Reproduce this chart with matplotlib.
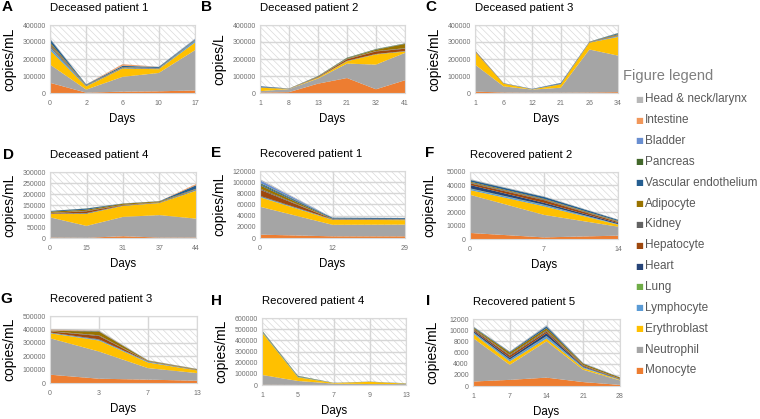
import matplotlib.pyplot as plt
from matplotlib.patches import Rectangle
import numpy as np

plt.rcParams['font.family'] = ['Liberation Sans', 'DejaVu Sans']
plt.rcParams['hatch.linewidth'] = 0.5

# cell types, bottom of the stack first
cell_types = ['Monocyte', 'Neutrophil', 'Erythroblast', 'Lymphocyte', 'Lung', 'Heart',
              'Hepatocyte', 'Kidney', 'Adipocyte', 'Vascular endothelium', 'Pancreas',
              'Bladder', 'Intestine', 'Head & neck/larynx']
colors = ['#ED7D31', '#A5A5A5', '#FFC000', '#5B9BD5', '#70AD47', '#264478',
          '#9E480E', '#636363', '#997300', '#255E91', '#43682B',
          '#698ED0', '#F1975A', '#B7B7B7']

# one row per cell type (same order as cell_types), one column per day
days_a = [0, 2, 6, 10, 17]
vals_a = [[60000, 2000, 8000, 10000, 15000],
          [107000, 18000, 87000, 108000, 237000],
          [85000, 19000, 49000, 22000, 45000],
          [15000, 2000, 2000, 2000, 10000],
          [3000, 500, 500, 500, 1000],
          [5000, 1000, 2000, 1500, 1000],
          [5000, 1000, 1000, 1000, 1000],
          [8000, 1500, 1000, 1000, 1000],
          [10000, 1500, 2000, 1500, 1000],
          [18000, 3000, 7000, 5000, 3000],
          [2000, 500, 500, 500, 500],
          [3000, 500, 1000, 1000, 3000],
          [0, 0, 8000, 0, 0],
          [2000, 500, 1000, 500, 1500]]

days_b = [1, 8, 13, 21, 32, 41]
vals_b = [[3000, 5000, 55000, 88000, 22000, 75000],
          [8000, 18000, 30000, 85000, 145000, 161000],
          [20000, 1000, 5000, 14000, 60000, 8000],
          [1000, 500, 500, 1000, 1000, 1000],
          [200, 100, 200, 500, 500, 500],
          [500, 200, 500, 1000, 1000, 1000],
          [1000, 500, 3000, 9000, 15000, 14000],
          [500, 200, 1000, 2000, 2000, 3000],
          [500, 300, 2000, 3000, 8000, 25000],
          [5000, 500, 1000, 1000, 1000, 1000],
          [200, 100, 1500, 3000, 3000, 2000],
          [300, 100, 200, 300, 300, 300],
          [0, 0, 0, 0, 0, 0],
          [200, 100, 200, 300, 300, 300]]

days_c = [1, 6, 12, 21, 26, 34]
vals_c = [[8000, 3000, 2000, 2000, 3000, 5000],
          [159000, 36000, 18000, 29000, 253000, 215000],
          [75000, 16000, 1000, 20000, 40000, 110000],
          [1000, 500, 500, 1000, 1000, 5000],
          [200, 100, 100, 200, 200, 500],
          [500, 300, 300, 1000, 500, 1000],
          [3000, 500, 300, 500, 1000, 3000],
          [1000, 300, 200, 300, 500, 1000],
          [2000, 500, 300, 500, 1000, 5000],
          [1000, 500, 1500, 4000, 1000, 5000],
          [500, 200, 100, 200, 500, 2000],
          [300, 200, 100, 500, 300, 500],
          [0, 0, 0, 0, 0, 0],
          [300, 200, 100, 200, 300, 500]]

days_d = [0, 15, 31, 37, 44]
vals_d = [[2000, 1000, 8000, 2000, 2000],
          [92000, 54000, 88000, 102000, 86000],
          [15000, 55000, 50000, 55000, 127000],
          [1000, 1000, 1000, 1000, 2000],
          [0, 500, 0, 0, 500],
          [1000, 2000, 1000, 500, 2000],
          [2000, 8000, 2000, 1000, 1000],
          [1000, 2000, 1000, 1000, 1000],
          [6000, 5000, 5000, 4000, 2000],
          [3000, 5000, 1000, 1000, 16000],
          [0, 1000, 0, 0, 500],
          [0, 0, 0, 0, 0],
          [0, 0, 0, 0, 5000],
          [0, 0, 0, 0, 0]]

days_e = [0, 12, 29]
vals_e = [[6000, 3000, 3000],
          [50000, 20600, 21000],
          [17000, 9000, 8000],
          [1000, 500, 500],
          [500, 100, 100],
          [1000, 300, 300],
          [11000, 500, 500],
          [2000, 200, 200],
          [6000, 500, 400],
          [2000, 1500, 1500],
          [2000, 100, 100],
          [5000, 200, 200],
          [0, 0, 0],
          [2000, 100, 100]]

days_f = [0, 7, 14]
vals_f = [[4500, 1200, 2500],
          [28500, 16800, 6700],
          [3500, 6400, 1500],
          [1000, 1000, 300],
          [300, 200, 100],
          [2500, 1400, 800],
          [1300, 2000, 800],
          [500, 500, 300],
          [700, 500, 500],
          [1200, 1400, 800],
          [200, 100, 100],
          [200, 100, 100],
          [0, 0, 0],
          [300, 200, 100]]

days_g = [0, 3, 7, 13]
vals_g = [[62000, 32000, 25000, 17000],
          [272000, 203000, 86000, 57000],
          [37000, 82000, 42000, 20000],
          [3000, 5000, 5000, 1000],
          [1000, 1000, 500, 500],
          [2000, 3000, 1000, 500],
          [8000, 25000, 2000, 2000],
          [2000, 5000, 1000, 1000],
          [3000, 28000, 4000, 4000],
          [1000, 2000, 1000, 1000],
          [500, 1000, 500, 300],
          [1000, 1000, 500, 300],
          [6000, 2000, 500, 300],
          [4000, 4000, 1000, 500]]

days_h = [1, 5, 7, 9, 13]
vals_h = [[2000, 1000, 500, 500, 500],
          [88000, 35000, 12000, 8000, 8000],
          [380000, 33000, 5000, 20000, 4000],
          [3000, 2000, 500, 500, 2000],
          [5000, 3000, 300, 300, 200],
          [2000, 1000, 200, 200, 200],
          [1000, 500, 200, 200, 100],
          [1000, 500, 100, 100, 100],
          [2000, 1000, 300, 300, 200],
          [3000, 2000, 300, 300, 200],
          [3000, 3000, 300, 200, 100],
          [0, 0, 0, 0, 0],
          [0, 0, 0, 0, 0],
          [0, 0, 0, 0, 0]]

days_i = [1, 7, 14, 21, 28]
vals_i = [[800, 1100, 1500, 700, 200],
          [7800, 2700, 6500, 2200, 800],
          [800, 600, 500, 300, 100],
          [200, 300, 400, 150, 50],
          [50, 50, 50, 30, 10],
          [300, 300, 500, 150, 60],
          [200, 400, 300, 150, 60],
          [150, 150, 200, 50, 30],
          [200, 400, 400, 250, 200],
          [100, 100, 300, 50, 30],
          [50, 30, 50, 20, 10],
          [30, 30, 100, 20, 10],
          [0, 0, 0, 0, 0],
          [50, 40, 100, 30, 20]]

letters = list('ABCDEFGHI')
titles = ['Deceased patient 1', 'Deceased patient 2', 'Deceased patient 3',
          'Deceased patient 4', 'Recovered patient 1', 'Recovered patient 2',
          'Recovered patient 3', 'Recovered patient 4', 'Recovered patient 5']
ylabels = ['copies/mL', 'copies/L'] + ['copies/mL'] * 7
all_days = [days_a, days_b, days_c, days_d, days_e, days_f, days_g, days_h, days_i]
all_vals = [vals_a, vals_b, vals_c, vals_d, vals_e, vals_f, vals_g, vals_h, vals_i]
y_max = [400000, 400000, 400000, 300000, 120000, 50000, 500000, 600000, 12000]
y_step = [100000, 100000, 100000, 50000, 20000, 10000, 100000, 100000, 2000]

# layout in pixels: plot area (left, top, right, bottom) and panel letter centre
W, H = 760, 419
rects = [(50, 25, 195, 93), (260, 25, 405, 93), (475, 25, 618, 93),
         (50, 172, 196, 238), (260, 171, 405, 238), (470, 172, 618, 239),
         (50, 316, 197, 383), (262, 318, 406, 385), (473, 319, 620, 386)]
letter_pos = [(7, 7), (206, 7), (431, 7), (8, 155), (216, 153), (430, 153),
              (6, 299), (217, 301), (428, 301)]

fig = plt.figure(figsize=(7.6, 4.19), dpi=100)

for k in range(9):
    l, t, r, b = rects[k]
    ax = fig.add_axes([l / W, 1 - b / H, (r - l) / W, (b - t) / H])
    days = all_days[k]
    x = np.arange(len(days))
    hatch_h = 0.8 if k == 6 else 1.0
    ax.add_patch(Rectangle((0, 0), 1, hatch_h, transform=ax.transAxes,
                           facecolor='white', edgecolor='#dadada', linewidth=0,
                           hatch='\\\\\\\\\\', zorder=0.2))
    ax.stackplot(x, all_vals[k], colors=colors, linewidth=0, zorder=1)
    ax.set_xlim(0, len(days) - 1)
    ax.set_ylim(0, y_max[k])
    ax.set_xticks(x, [str(d) for d in days])
    yt = np.arange(0, y_max[k] + 1, y_step[k])
    ax.set_yticks(yt, [str(int(v)) for v in yt])
    ax.grid(True, color='#d6d6d6', linewidth=1.0)
    ax.set_axisbelow(True)
    ax.tick_params(length=0, labelsize=5, labelcolor='#707070')
    ax.tick_params(axis='x', pad=5)
    ax.tick_params(axis='y', pad=3)
    for s in ax.spines.values():
        s.set_color('#d9d9d9')
        s.set_linewidth(0.8)

    fig.text(l / W, 1 - (t - 17) / H, titles[k], ha='left', va='center', fontsize=8.2)
    lx, ly = letter_pos[k]
    fig.text(lx / W, 1 - ly / H, letters[k], ha='center', va='center',
             fontsize=11, fontweight='bold')
    fig.text((l - 41) / W, 1 - ((t + b) / 2) / H, ylabels[k], rotation=90,
             ha='center', va='center', fontsize=10)
    fig.text(((l + r) / 2) / W, 1 - (b + 26) / H, 'Days', ha='center',
             va='center', fontsize=8.3)

# legend, listed top of the stack first
fig.text(623 / W, 1 - 76 / H, 'Figure legend', fontsize=10.5, color='#7f7f7f', va='center')
for i, name in enumerate(cell_types[::-1]):
    y = 99.3 + i * 20.85
    fig.text(639.5 / W, 1 - y / H, '\u25a0', color=colors[::-1][i], fontsize=6,
             ha='center', va='center', family='DejaVu Sans')
    fig.text(645 / W, 1 - y / H, name, fontsize=8.5, color='#595959', va='center')

fig.savefig('out.png', dpi=100)
